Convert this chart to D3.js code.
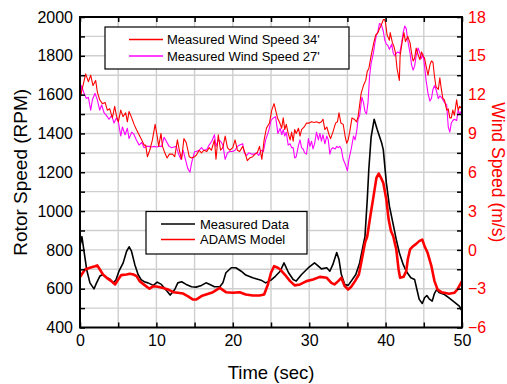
<!DOCTYPE html>
<html>
<head>
<meta charset="utf-8">
<script src="https://cdn.jsdelivr.net/npm/d3@7"></script>
<style>
  body { margin: 0; background: #fff; }
  text { font-family: Arial, "Liberation Sans", sans-serif; }
</style>
</head>
<body>
<div id="chart"></div>
<script>
// wind speed at 34' (m/s, right axis)
const wind34T = [0,0.74,1.09,1.4,1.7,2.05,2.27,2.58,2.93,3.28,3.58,3.89,4.24,4.54,4.76,5.02,5.33,5.63,5.98,6.2,6.42,6.77,7.08,7.38,7.73,8.08,8.39,8.6,8.82,9.13,9.48,9.83,10.1,10.3,10.6,10.8,11.1,11.4,11.7,12.1,12.4,12.75,13,13.3,13.6,13.9,14.3,14.6,15,15.2,15.6,15.9,16.2,16.6,16.9,17.2,17.6,17.8,18.1,18.4,18.7,19,19.3,19.6,20,20.3,20.6,20.9,21.3,21.6,21.9,22.2,22.6,22.9,23.2,23.5,23.8,24.1,24.4,24.8,25.1,25.4,25.85,26.16,26.4,26.6,26.8,27,27.25,27.5,27.7,27.9,28.1,28.3,28.6,28.8,29,29.35,29.65,30,30.3,30.65,30.96,31.3,31.6,31.8,32.05,32.3,32.6,32.8,33.1,33.45,33.7,33.9,34.15,34.45,34.7,34.9,35.1,35.3,35.6,35.9,36.2,36.4,36.8,37.1,37.4,37.6,37.8,38.1,38.45,38.7,39,39.2,39.45,39.7,39.9,40,40.2,40.5,40.6,40.9,41.1,41.3,41.5,41.8,41.9,42.2,42.4,42.6,42.9,43.2,43.4,43.6,43.8,44,44.25,44.5,44.7,44.9,45.1,45.3,45.55,45.8,46,46.2,46.4,46.6,46.9,47.1,47.3,47.5,47.7,48,48.2,48.4,48.6,48.8,49,49.3,49.5,49.7,50];
const wind34V = [11.7,13.6,13,13.5,12.7,13.1,12.2,11.6,11.3,11.4,10.8,10.9,10.2,11.1,10.4,9.9,10.8,10.3,10.6,9.9,10.7,10.2,9.7,9.3,8.9,8.5,8.1,8.1,7.2,7.7,8.5,9.7,8.8,8,9,8,7.5,7.1,7.4,7.4,7.2,8.5,7.7,7,8.6,8.3,7.2,7.1,7.2,7.3,7.7,7.5,7.7,7.6,7.9,7.7,8.5,7,8.9,7.7,7.9,8.8,7.9,7.7,7.9,8.5,7.7,7.6,8,7.5,6.9,7.1,7.2,7.4,7.5,8,7,8.5,9.4,9.8,10.8,11.3,10.2,9.8,9.4,10.2,9.3,9.7,9,8.5,9.1,8.4,9.3,9,9.4,8.8,9.3,9.5,9.8,9.8,9.9,9.85,9.9,9.8,9.9,10.1,9.3,9.5,8.9,8.6,9.1,9.8,9.9,10.6,9.8,9.7,8.8,8.25,8.5,9.1,10.2,10.1,9.9,10.3,12.1,12.7,13.1,13.8,14,15,16,16.6,16.8,17.1,17.4,17.8,17.8,17.5,16.6,16.2,16.8,16,15.7,15.2,14,13.1,15,16.2,16.8,16.1,16.5,16,15.2,14.6,14.8,15.6,15.1,14.7,15.3,15,14.8,14.2,13.5,14.3,14.6,14.5,13.4,12.6,12.4,13.3,12.4,11.7,11.6,10.8,10.9,10.2,10.2,10.8,10.4,11.6,10.8,11.1,10.9];

// wind speed at 27' (m/s, right axis)
const wind27T = [0,0.22,0.53,0.83,1.09,1.4,1.62,1.97,2.27,2.58,2.84,3.15,3.45,3.8,4.15,4.45,4.76,5.02,5.33,5.55,5.9,6.2,6.42,6.77,7.08,7.38,7.73,8.08,8.39,8.69,9.04,9.39,9.7,10,10.35,10.7,11,11.3,11.66,12,12.3,12.6,12.9,13.2,13.5,13.8,14.1,14.4,14.6,15,15.2,15.6,15.9,16.2,16.6,16.9,17.25,17.6,17.8,18.1,18.4,18.7,19,19.3,19.6,20,20.3,20.6,20.9,21.3,21.5,21.8,22.1,22.5,22.8,23.1,23.4,23.7,24,24.3,24.7,25,25.3,25.6,25.9,26.2,26.4,26.6,26.8,27,27.25,27.5,27.7,27.9,28.1,28.3,28.6,28.8,29,29.2,29.4,29.65,29.9,30.1,30.3,30.5,30.7,30.96,31.2,31.4,31.6,31.8,32.05,32.3,32.5,32.7,32.9,33.1,33.4,33.6,33.8,34,34.2,34.45,34.8,35,35.2,35.5,35.8,36,36.2,36.4,36.6,36.9,37.1,37.3,37.5,37.7,37.9,38.1,38.4,38.6,38.8,39,39.2,39.45,39.7,39.9,40.1,40.3,40.5,40.8,41,41.2,41.4,41.6,41.85,42.1,42.3,42.5,42.7,42.9,43.2,43.4,43.6,43.8,44,44.25,44.5,44.7,44.9,45.1,45.3,45.55,45.8,46,46.2,46.4,46.6,46.9,47.1,47.3,47.5,47.7,48,48.2,48.4,48.6,48.8,49,49.3,49.5,49.7,50];
const wind27V = [11.6,12.7,12.1,11.7,11.8,10.8,11.6,12.1,11.6,10.8,11.2,10.6,10.4,10.1,10.4,9.8,10.2,9.9,8.8,9.5,8.9,9.4,8.6,9.1,8.9,8.5,8.1,8.3,7.9,8,8,7.95,8,7.95,8,8,8.7,8.4,8,7.9,7.95,8,7.4,7,7.7,7,6.3,6,6.7,7.6,7.6,7.7,7.9,7.7,7.75,8.1,8.4,8.9,8,8.5,8.4,8.1,7,7.5,7.6,7.6,7.7,8,8.1,8.2,7.5,7.3,7.5,7.4,7.4,7.5,7.3,7.7,7.6,8.5,9.2,10,10.2,10.3,9,9.4,8.9,9.3,8.8,9.1,8.1,8.2,7.9,7.9,7.1,7.2,8.1,8.5,7.9,7.8,7.5,7.4,8.6,8,8.4,7.8,8.2,9.1,8.5,9,8.4,8.9,8.2,8.8,8.5,7.4,7.8,7.9,7.8,8,7.9,8,7.8,7,6.5,6.1,7,7.8,8.8,8.5,9.1,10.1,10.4,11.8,11.4,10.7,10.5,11.4,13.4,14.4,15.2,16,16.6,16.9,17.5,17.4,16.9,16.2,15.9,15.8,15.5,15.9,15.2,15,15.2,15.3,15.2,16,16.8,17.3,17.1,16.2,15.2,14.3,13.9,14.2,15,15.6,15.2,14.8,15.1,14.2,13.1,12.1,11.5,11.7,12.4,12.7,12.4,11.7,11.9,11.8,11.6,11.4,11.2,9.5,9.1,9.8,10,10.1,10,10.8,10.5,10.8];

// rotor speed, measured (RPM, left axis)
const measT = [0,0.25,0.5,0.87,1.3,1.83,2.17,2.6,3,3.5,3.9,4.35,4.7,5.1,5.65,6.1,6.43,6.74,7.17,7.6,8,8.5,8.9,9.6,10.1,10.65,11.4,11.8,12.4,12.8,13.3,13.9,14.6,15.2,15.9,16.5,17,17.6,18.3,18.7,19.1,19.8,20.4,21.1,21.7,22.6,23.7,24.3,25,25.6,26.2,26.7,27.3,27.9,28.3,29,29.9,30.7,31.2,31.6,32.3,32.7,33.1,33.6,33.9,34.2,34.65,35.1,35.5,36.1,36.6,37.3,37.6,37.8,38.1,38.5,38.9,39.5,39.7,40.1,40.5,41,41.4,41.8,42.3,42.7,43.3,43.8,44.1,44.4,44.8,45.1,45.4,45.7,46.1,46.4,46.7,47,47.7,48.3,49,49.65,50];
const measV = [820,868,800,699,630,599,630,665,673,656,650,630,645,690,733,793,816,793,725,673,647,634,630,617,634,622,587,567,596,630,636,622,610,608,617,630,622,610,610,630,682,708,708,690,670,656,644,630,644,665,690,733,682,647,639,673,708,733,716,702,708,690,725,786,750,674,622,617,639,673,733,870,1059,1213,1380,1473,1420,1349,1315,1145,1025,930,853,785,725,690,656,647,596,545,524,553,565,548,536,576,596,580,570,553,531,510,485];

// rotor speed, ADAMS model (RPM, left axis)
const adamsT = [0,0.65,1.3,1.96,2.26,2.6,3,3.5,4.1,4.6,5,5.4,6.1,6.5,7,7.4,7.8,8.5,9.1,9.6,10.2,10.9,11.5,12.2,12.8,13.5,14.1,14.8,15.2,15.9,16.5,17.4,18.3,19.1,20,20.9,21.7,22.6,23.5,24.1,24.6,25,25.4,25.9,26.2,26.8,27.5,28.1,28.8,29.65,30.5,31.4,32.3,32.9,33.3,33.8,34.2,34.65,35.1,35.5,36,36.5,36.8,37.3,37.6,38,38.35,38.8,39.1,39.4,39.7,40.1,40.4,40.7,41,41.4,41.7,41.9,42.35,42.7,42.9,43.2,43.6,44,44.4,44.8,45.1,45.5,46,46.4,46.8,47.3,47.7,48.3,49,49.4,50];
const adamsV = [660,699,708,716,720,699,673,656,639,622,647,670,673,677,673,665,639,617,600,613,610,604,596,582,579,575,562,544,544,562,570,582,604,582,579,582,570,565,565,570,622,682,716,708,699,673,639,617,622,639,647,661,656,630,622,639,656,613,596,610,639,673,733,836,870,973,1059,1171,1193,1171,1145,1059,956,897,870,802,699,656,661,690,750,802,819,831,845,853,819,785,716,639,596,582,579,574,579,596,639];

const leftTicks = [400, 600, 800, 1000, 1200, 1400, 1600, 1800, 2000];
const rightTicks = [-6, -3, 0, 3, 6, 9, 12, 15, 18];
const timeTicks = [0, 10, 20, 30, 40, 50];

const W = 507, H = 384;
const plot = {left: 80, right: 462, top: 17, bottom: 327.5};

const x = d3.scaleLinear().domain([0, 50]).range([plot.left, plot.right]);
const yL = d3.scaleLinear().domain([400, 2000]).range([plot.bottom, plot.top]);
const yR = d3.scaleLinear().domain([-6, 18]).range([plot.bottom, plot.top]);

const svg = d3.select('#chart').append('svg')
    .attr('width', W)
    .attr('height', H);

svg.append('rect').attr('width', W).attr('height', H).attr('fill', '#fff');

// grid
const grid = svg.append('g');
grid.selectAll('.gx')
    .data(d3.range(5, 50, 5))
    .enter().append('line')
    .attr('x1', d => x(d)).attr('x2', d => x(d))
    .attr('y1', plot.top).attr('y2', plot.bottom)
    .attr('stroke', '#cfcfcf').attr('stroke-width', 1.4);
grid.selectAll('.gy')
    .data(d3.range(500, 2000, 100))
    .enter().append('line')
    .attr('x1', plot.left).attr('x2', plot.right)
    .attr('y1', d => yL(d)).attr('y2', d => yL(d))
    .attr('stroke', '#cfcfcf').attr('stroke-width', 1.4);

function series(T, V, ys, color, w) {
    const pts = T.map((t, i) => [t, V[i]]);
    svg.append('path')
        .datum(pts)
        .attr('fill', 'none')
        .attr('stroke', color)
        .attr('stroke-width', w)
        .attr('stroke-linejoin', 'round')
        .attr('d', d3.line().x(d => x(d[0])).y(d => ys(d[1])));
}

series(wind27T, wind27V, yR, '#ff00ff', 1.1);
series(wind34T, wind34V, yR, '#ff0000', 1.1);
series(measT, measV, yL, '#000000', 1.6);
series(adamsT, adamsV, yL, '#ff0000', 2.6);

// axes (Origin style, ticks pointing inward)
const fmt = d3.format('d');
const axL = svg.append('g').attr('transform', `translate(${plot.left},0)`)
    .call(d3.axisRight(yL).tickValues(d3.range(400, 2001, 100)).tickSize(5).tickFormat(''));
const axLlab = svg.append('g').attr('transform', `translate(${plot.left},0)`)
    .call(d3.axisLeft(yL).tickValues(leftTicks).tickSize(0).tickPadding(7).tickFormat(fmt));

const axR = svg.append('g').attr('transform', `translate(${plot.right},0)`)
    .call(d3.axisLeft(yR).tickValues(d3.range(-6, 18.1, 1.5)).tickSize(5).tickFormat(''));
const axRlab = svg.append('g').attr('transform', `translate(${plot.right},0)`)
    .call(d3.axisRight(yR).tickValues(rightTicks).tickSize(0).tickPadding(6).tickFormat(fmt));

const axB = svg.append('g').attr('transform', `translate(0,${plot.bottom})`)
    .call(d3.axisTop(x).tickValues(d3.range(0, 51, 5)).tickSize(5).tickFormat(''));
const axBlab = svg.append('g').attr('transform', `translate(0,${plot.bottom})`)
    .call(d3.axisBottom(x).tickValues(timeTicks).tickSize(0).tickPadding(7).tickFormat(fmt));

const axT = svg.append('g').attr('transform', `translate(0,${plot.top})`)
    .call(d3.axisBottom(x).tickValues(d3.range(0, 51, 5)).tickSize(5).tickFormat(''));

[axL, axR, axB, axT, axLlab, axRlab, axBlab].forEach(g => {
    g.select('.domain').remove();
    g.selectAll('line').attr('stroke', '#000').attr('stroke-width', 1.5);
    g.selectAll('text').attr('font-size', 16).attr('font-family', 'Arial, "Liberation Sans", sans-serif').attr('fill', '#000');
});
axRlab.selectAll('text').attr('fill', '#ff0000');

// frame
svg.append('rect')
    .attr('x', plot.left).attr('y', plot.top)
    .attr('width', plot.right - plot.left).attr('height', plot.bottom - plot.top)
    .attr('fill', 'none').attr('stroke', '#000').attr('stroke-width', 2);

// axis titles
svg.append('text')
    .attr('transform', `translate(27,${(plot.top + plot.bottom) / 2}) rotate(-90)`)
    .attr('text-anchor', 'middle')
    .attr('font-size', 19)
    .text('Rotor Speed (RPM)');

svg.append('text')
    .attr('transform', `translate(492,${(plot.top + plot.bottom) / 2}) rotate(90)`)
    .attr('text-anchor', 'middle')
    .attr('font-size', 17.5)
    .attr('fill', '#ff0000')
    .text('Wind Speed (m/s)');

svg.append('text')
    .attr('x', (plot.left + plot.right) / 2)
    .attr('y', 379)
    .attr('text-anchor', 'middle')
    .attr('font-size', 18.5)
    .text('Time (sec)');

// legends
function legend(x0, y0, w, h, items) {
    const g = svg.append('g');
    g.append('rect')
        .attr('x', x0).attr('y', y0).attr('width', w).attr('height', h)
        .attr('fill', '#fff').attr('stroke', '#000').attr('stroke-width', 1.2);
    items.forEach((it, i) => {
        g.append('line')
            .attr('x1', it.lx1).attr('x2', it.lx2)
            .attr('y1', it.y).attr('y2', it.y)
            .attr('stroke', it.color).attr('stroke-width', 1.5);
        g.append('text')
            .attr('x', it.tx).attr('y', it.y + 4.5)
            .attr('font-size', 13)
            .text(it.label);
    });
}

legend(105, 27, 244, 42, [
    {lx1: 129, lx2: 163, tx: 167, y: 39.5, color: '#ff0000', label: "Measured Wind Speed 34'"},
    {lx1: 129, lx2: 163, tx: 167, y: 56, color: '#ff00ff', label: "Measured Wind Speed 27'"}
]);

legend(146, 211.5, 161, 42.5, [
    {lx1: 161, lx2: 195, tx: 200, y: 224, color: '#000000', label: 'Measured Data'},
    {lx1: 161, lx2: 195, tx: 200, y: 239.5, color: '#ff0000', label: 'ADAMS Model'}
]);
</script>
</body>
</html>
